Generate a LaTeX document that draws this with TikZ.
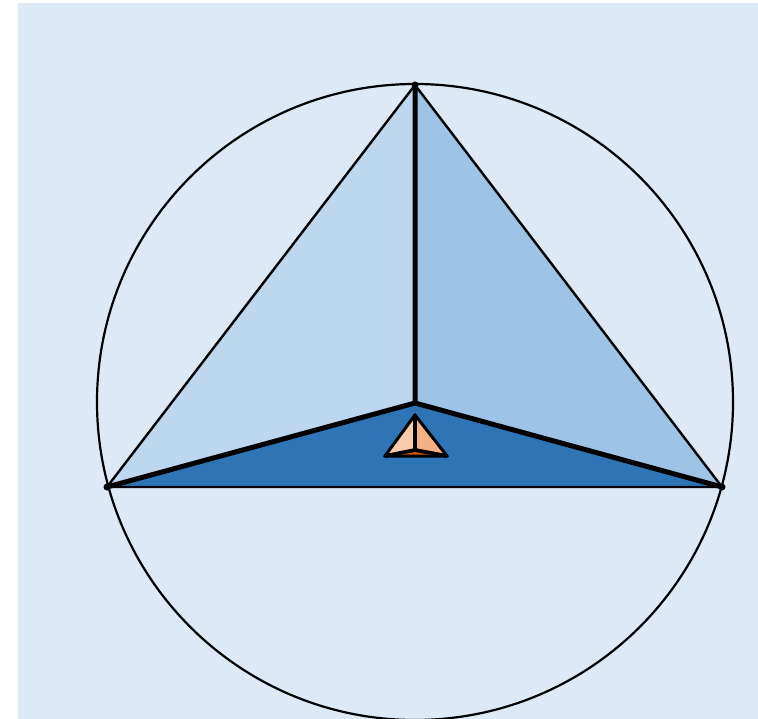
\documentclass[tikz,border=0pt]{standalone}
\begin{document}
\begin{tikzpicture}[x=1pt,y=-1pt,
  thinedge/.style={line width=2.4pt,line join=round},
  thickedge/.style={line width=5pt,line cap=round},
  smalledge/.style={line width=3pt,line join=round},
  vdot/.style={circle,fill=black,inner sep=0pt,minimum size=7pt}]
\definecolor{bg}{HTML}{DDEAF6}
\definecolor{faceL}{HTML}{BDD7EE}
\definecolor{faceR}{HTML}{9DC3E6}
\definecolor{faceB}{HTML}{2E75B6}
\definecolor{oL}{HTML}{F8CBAD}
\definecolor{oR}{HTML}{F4B183}
\definecolor{oB}{HTML}{C55A11}
\useasboundingbox (0,0) rectangle (758,719);
\fill[bg] (18,3) rectangle (758,719);
\coordinate (O) at (415,402);
\coordinate (A) at (415,85);
\coordinate (B) at (107,487);
\coordinate (C) at (722,487);
\coordinate (D) at (415,403);
\coordinate (a) at (415,415);
\coordinate (b) at (385,456);
\coordinate (c) at (447,456);
\coordinate (d) at (415,450);
\fill[faceL] (A) -- (B) -- (D) -- cycle;
\fill[faceR] (A) -- (C) -- (D) -- cycle;
\fill[faceB] (B) -- (C) -- (D) -- cycle;
\draw[line width=2.2pt] (O) circle[radius=318];
\draw[thinedge] (A) -- (B) -- (C) -- cycle;
\draw[thickedge] (A) -- (D) (B) -- (D) (C) -- (D);
\fill[oL] (a) -- (b) -- (d) -- cycle;
\fill[oR] (a) -- (c) -- (d) -- cycle;
\fill[oB] (b) -- (c) -- (d) -- cycle;
\draw[smalledge] (a) -- (b) -- (c) -- cycle;
\draw[line width=3.8pt,line cap=round] (a) -- (d) (b) -- (d) (c) -- (d);
\node[vdot] (pA) at (A) {};
\node[vdot] (pB) at (B) {};
\node[vdot] (pC) at (C) {};
\end{tikzpicture}
\end{document}
